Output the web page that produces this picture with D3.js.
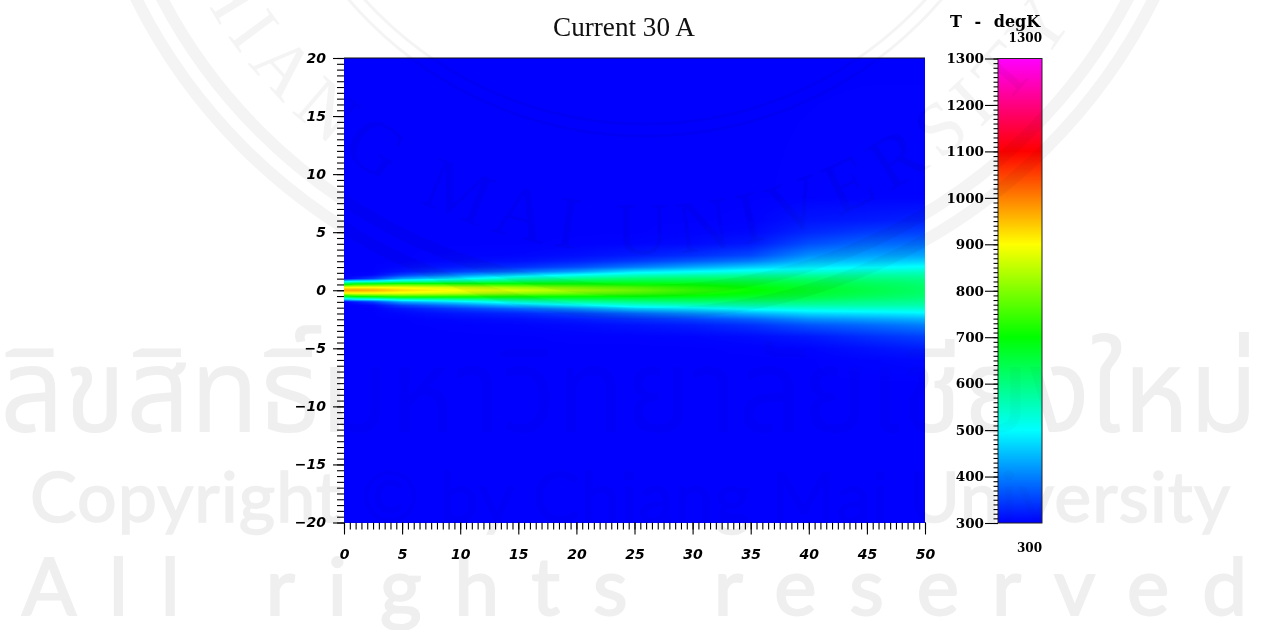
<!DOCTYPE html>
<html>
<head>
<meta charset="utf-8">
<script src="https://cdn.jsdelivr.net/npm/d3@7"></script>
<style>
html,body{margin:0;padding:0;background:#fff;overflow:hidden}
svg{display:block}
.wm{mix-blend-mode:multiply}
</style>
</head>
<body>
<svg id="chart" width="1261" height="630"></svg>
<script>
const titleText = "Current 30 A";
const legendTitle = "T - degK";
const legendMax = "1300";
const legendMin = "300";
const xMajorTicks = [0,5,10,15,20,25,30,35,40,45,50];
const yMajorTicks = [20,15,10,5,0,-5,-10,-15,-20];
const tempTicks = [300,400,500,600,700,800,900,1000,1100,1200,1300];
const colorStops = [300,500,700,900,1100,1300];
const colorValues = ["#0000ff","#00ffff","#00ff00","#ffff00","#ff0000","#ff00ff"];

// Temperature at these heights (top to bottom) and axial stations
const yLevels = [20,8,6,5,4,3,2.5,2,1.6,1.3,1,.75,.5,.25,0,-.25,-.5,-.75,-1,-1.3,-1.6,-2,-2.5,-3,-4,-5,-6,-8,-20];
const xStations = [0,1,2.5,5,10,15,20,25,30,35,40,45,50];
const tempAt0  = [300,300,300,300,300,300,300,300,300,300,300,490,690,900,975,900,690,490,300,300,300,300,300,300,300,300,300,300,300];
const tempAt1  = [300,300,300,300,300,300,300,300,300,300,320,520,730,900,975,900,730,520,320,300,300,300,300,300,300,300,300,300,300];
const tempAt2  = [300,300,300,300,300,300,300,300,300,305,350,530,740,900,965,900,740,530,350,305,300,300,300,300,300,300,300,300,300];
const tempAt5  = [300,300,300,300,300,300,300,305,315,350,430,570,760,890,930,890,760,570,430,350,315,305,300,300,300,300,300,300,300];
const tempAt10 = [300,300,300,300,300,302,306,320,350,410,490,600,740,860,900,860,740,600,480,400,345,318,305,301,300,300,300,300,300];
const tempAt15 = [300,300,300,300,300,304,312,335,385,465,550,630,725,820,870,820,725,625,535,450,375,330,310,303,300,300,300,300,300];
const tempAt20 = [300,300,300,300,301,310,325,360,425,510,590,650,715,790,830,790,715,645,575,495,410,350,320,307,301,300,300,300,300];
const tempAt25 = [300,300,300,300,303,320,345,395,480,545,610,655,705,760,790,760,705,650,595,530,460,380,335,314,301,300,300,300,300];
const tempAt30 = [300,300,300,302,307,335,370,430,500,565,620,655,695,725,740,725,695,650,610,550,480,410,350,322,303,300,300,300,300];
const tempAt35 = [300,300,301,305,318,355,395,460,520,575,620,650,675,695,705,695,675,645,610,565,510,440,375,338,308,301,300,300,300];
const tempAt40 = [300,301,315,330,360,410,445,485,530,575,612,635,652,665,670,665,652,632,605,570,525,470,410,365,318,303,300,300,300];
const tempAt45 = [300,302,320,345,380,425,455,495,540,575,600,618,632,640,645,640,630,613,592,570,532,480,425,382,335,312,303,300,300];
const tempAt50 = [300,302,325,350,385,430,465,505,545,570,590,603,612,618,620,618,610,600,585,565,535,490,440,400,350,322,306,300,300];
const tempColumns = [tempAt0,tempAt1,tempAt2,tempAt5,tempAt10,tempAt15,tempAt20,tempAt25,tempAt30,tempAt35,tempAt40,tempAt45,tempAt50];

const wmThai = "ลิขสิทธิ์มหาวิทยาลัยเชียงใหม่";
const wmCopy = "Copyright © by Chiang Mai University";
const wmRights = "All rights reserved";
const wmSeal = "CHIANG MAI UNIVERSITY";
const wmRingRadii = [378,390,545,568];

const svg = d3.select("#chart");
const defs = svg.append("defs");
const plot = {l:344,r:925,t:58,b:522.5};
const bar = {l:998,r:1042,t:58.5,b:523};
const x = d3.scaleLinear().domain([0,50]).range([plot.l,plot.r]);
const y = d3.scaleLinear().domain([20,-20]).range([plot.t,plot.b]);
const t = d3.scaleLinear().domain([300,1300]).range([bar.b,bar.t]);
const color = d3.scaleLinear().domain(colorStops).range(colorValues).clamp(true);

// Seal arc used by the watermark
const cx=645, cy=-254, sr=508, a0=75*Math.PI/180;
const sealPath = d3.path();
sealPath.moveTo(cx-sr*Math.sin(a0),cy+sr*Math.cos(a0));
sealPath.arc(cx,cy,sr,Math.PI/2+a0,Math.PI/2-a0,true);
defs.append("path").attr("id","sealArc").attr("d",sealPath.toString());
const clip = defs.append("clipPath").attr("id","markClip");
clip.append("rect").attr("x",plot.l).attr("y",plot.t).attr("width",plot.r-plot.l).attr("height",plot.b-plot.t);
clip.append("rect").attr("x",bar.l).attr("y",bar.t).attr("width",bar.r-bar.l).attr("height",bar.b-bar.t);

function drawWatermark(g,ink,ringInk){
  g.selectAll("circle.ring").data(wmRingRadii).join("circle").attr("class","ring")
    .attr("cx",cx).attr("cy",cy).attr("r",d=>d).attr("fill","none").attr("stroke",ringInk)
    .attr("stroke-width",(d,i)=>i>1?12:3);
  g.append("text").attr("font-family","'Liberation Serif'").attr("font-size",75).attr("fill",ringInk)
    .attr("letter-spacing",10)
    .append("textPath").attr("href","#sealArc").attr("startOffset",50).text(wmSeal);
  g.append("text").attr("x",0).attr("y",432).attr("textLength",1258).attr("lengthAdjust","spacingAndGlyphs")
    .attr("font-family","'Noto Sans Thai','Noto Sans','DejaVu Sans',sans-serif").attr("font-size",118).attr("fill",ink).text(wmThai);
  g.append("text").attr("x",30).attr("y",522).attr("textLength",1200).attr("lengthAdjust","spacing")
    .attr("font-family","'Lato','Noto Sans'").attr("font-size",70).attr("fill",ink).attr("stroke",ink).attr("stroke-width",1.5).text(wmCopy);
  g.append("text").attr("x",22).attr("y",615).attr("textLength",1225).attr("lengthAdjust","spacing")
    .attr("font-family","'Lato','Noto Sans'").attr("font-size",80).attr("fill",ink).attr("stroke",ink).attr("stroke-width",2).text(wmRights);
}
drawWatermark(svg.append("g"),"#efefef","#f4f4f4");

// Field raster: shaded between the grid nodes
const ascLevels = yLevels.map(d=>-d);
function fieldAt(px,py){
  const i = Math.min(Math.max(d3.bisectRight(xStations,px)-1,0),xStations.length-2);
  const j = Math.min(Math.max(d3.bisectRight(ascLevels,-py)-1,0),yLevels.length-2);
  const fx = (px-xStations[i])/(xStations[i+1]-xStations[i]);
  const fy = (-py-ascLevels[j])/(ascLevels[j+1]-ascLevels[j]);
  const a = tempColumns[i], b = tempColumns[i+1];
  return (a[j]*(1-fy)+a[j+1]*fy)*(1-fx)+(b[j]*(1-fy)+b[j+1]*fy)*fx;
}
const W = Math.round(plot.r-plot.l), H = Math.round(plot.b-plot.t);
const cv = document.createElement("canvas"); cv.width=W; cv.height=H;
const ctx = cv.getContext("2d");
const img = ctx.createImageData(W,H);
for(let r=0;r<H;r++){
  const py = y.invert(plot.t+r+.5);
  for(let c=0;c<W;c++){
    const col = d3.rgb(color(fieldAt(x.invert(plot.l+c+.5),py)));
    const k=(r*W+c)*4;
    img.data[k]=col.r; img.data[k+1]=col.g; img.data[k+2]=col.b; img.data[k+3]=255;
  }
}
ctx.putImageData(img,0,0);
svg.append("image").attr("x",plot.l).attr("y",plot.t).attr("width",W).attr("height",H)
   .attr("href",cv.toDataURL());

// Colour bar
const grad = defs.append("linearGradient").attr("id","cbar")
   .attr("x1",0).attr("x2",0).attr("y1",1).attr("y2",0);
grad.selectAll("stop").data(colorStops).join("stop")
   .attr("offset",d=>(d-300)/1000).attr("stop-color",d=>color(d));
svg.append("rect").attr("x",bar.l).attr("y",bar.t).attr("width",bar.r-bar.l).attr("height",bar.b-bar.t)
   .attr("fill","url(#cbar)").attr("stroke","#222").attr("stroke-width",1);

// Axes
const numFont = "'DejaVu Sans'";
function minor(dom,step){ return d3.range(dom[0],dom[1]+step/2,step); }
function styleAxis(g,size,weight,style,family){
  g.select(".domain").remove();
  g.selectAll("line").attr("stroke","#000").attr("stroke-width",1.1);
  g.selectAll("text").attr("fill","#000").attr("font-family",family).attr("font-size",size)
   .attr("font-weight",weight).attr("font-style",style);
}
const fmt = d=>String(d).replace("-","\u2212");
const ax = d3.axisBottom(x).tickValues(xMajorTicks).tickSize(12).tickPadding(15).tickFormat(fmt);
const ax2 = d3.axisBottom(x).tickValues(minor([0,50],.5)).tickSize(7).tickFormat("");
const ay = d3.axisLeft(y).tickValues(yMajorTicks).tickSize(11).tickPadding(7).tickFormat(fmt);
const ay2 = d3.axisLeft(y).tickValues(minor([-20,20],.5)).tickSize(7).tickFormat("");
const at = d3.axisLeft(t).tickValues(tempTicks).tickSize(13).tickPadding(1).tickFormat(d3.format("d"));
const at2 = d3.axisLeft(t).tickValues(minor([300,1300],10)).tickSize(4.5).tickFormat("");
svg.append("g").attr("transform",`translate(0,${plot.b})`).call(ax2).call(g=>styleAxis(g,0,"bold","normal",numFont));
svg.append("g").attr("transform",`translate(0,${plot.b})`).call(ax).call(g=>styleAxis(g,14,"bold","oblique",numFont));
svg.append("g").attr("transform",`translate(${plot.l},0)`).call(ay2).call(g=>styleAxis(g,0,"bold","normal",numFont));
svg.append("g").attr("transform",`translate(${plot.l},0)`).call(ay).call(g=>styleAxis(g,14,"bold","oblique",numFont));
svg.append("g").attr("transform",`translate(${bar.l},0)`).call(at2).call(g=>styleAxis(g,0,"bold","normal",numFont));
svg.append("g").attr("transform",`translate(${bar.l},0)`).call(at).call(g=>styleAxis(g,13.5,"bold","normal","'DejaVu Serif'"));
svg.append("line").attr("x1",plot.l).attr("x2",plot.r).attr("y1",plot.t).attr("y2",plot.t).attr("stroke","#111");

// Titles
svg.append("text").attr("x",624).attr("y",36).attr("text-anchor","middle")
   .attr("font-family","'Liberation Serif'").attr("font-size",27).attr("textLength",142).attr("lengthAdjust","spacingAndGlyphs").attr("fill","#111").text(titleText);
svg.append("text").attr("x",950).attr("y",27).attr("word-spacing",7)
   .attr("font-family","'DejaVu Serif'").attr("font-weight","bold").attr("font-size",16).attr("fill","#000").text(legendTitle);
svg.append("text").attr("x",1042).attr("y",42).attr("text-anchor","end")
   .attr("font-family","'DejaVu Serif'").attr("font-weight","bold").attr("font-size",12).attr("fill","#000").text(legendMax);
svg.append("text").attr("x",1042).attr("y",552).attr("text-anchor","end")
   .attr("font-family","'DejaVu Serif'").attr("font-weight","bold").attr("font-size",12).attr("fill","#000").text(legendMin);

// Same watermark, much fainter, multiplied over the coloured marks only
const over = svg.append("g").attr("class","wm").attr("clip-path","url(#markClip)");
drawWatermark(over,"#f9f9f9","#f4f4f4");
</script>
</body>
</html>
